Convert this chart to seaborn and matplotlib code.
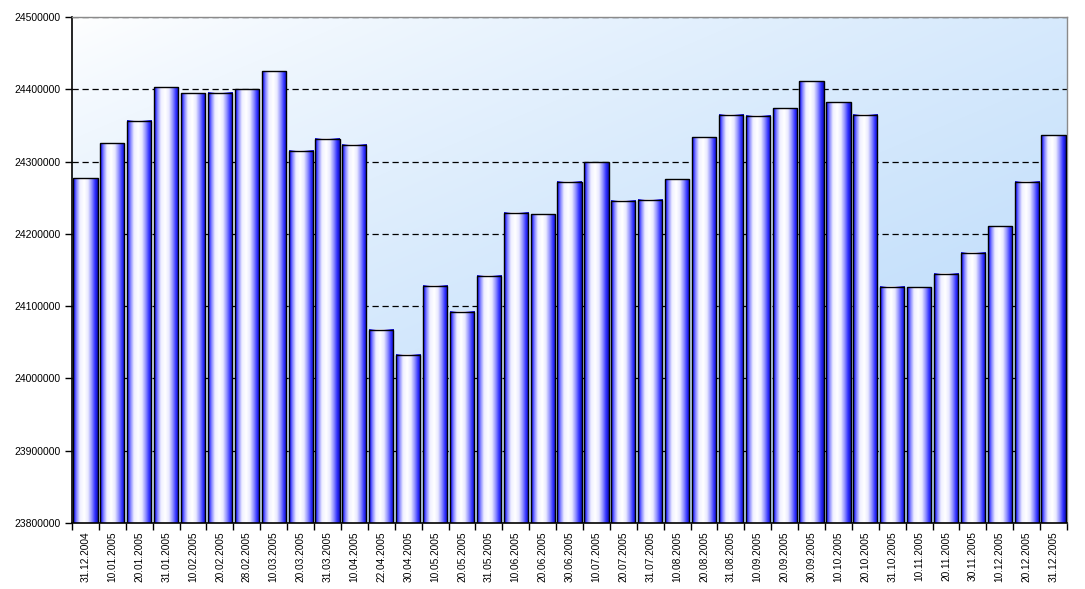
import numpy as np
import pandas as pd
import matplotlib
matplotlib.use("Agg")
import matplotlib.pyplot as plt
import seaborn as sns
from matplotlib.colors import LinearSegmentedColormap

dates = ["31.12.2004", "10.01.2005", "20.01.2005", "31.01.2005", "10.02.2005", "20.02.2005",
         "28.02.2005", "10.03.2005", "20.03.2005", "31.03.2005", "10.04.2005", "22.04.2005",
         "30.04.2005", "10.05.2005", "20.05.2005", "31.05.2005", "10.06.2005", "20.06.2005",
         "30.06.2005", "10.07.2005", "20.07.2005", "31.07.2005", "10.08.2005", "20.08.2005",
         "31.08.2005", "10.09.2005", "20.09.2005", "30.09.2005", "10.10.2005", "20.10.2005",
         "31.10.2005", "10.11.2005", "20.11.2005", "30.11.2005", "10.12.2005", "20.12.2005",
         "31.12.2005"]
values = [24277300, 24325700, 24356200, 24403200, 24394900, 24395200,
          24399800, 24425300, 24314700, 24331300, 24323000, 24067100,
          24032500, 24127900, 24092000, 24141800, 24228900, 24227500,
          24271800, 24299400, 24245500, 24246900, 24275900, 24334000,
          24364500, 24363100, 24374100, 24411500, 24382400, 24364500,
          24126600, 24126000, 24144500, 24173600, 24210900, 24271800,
          24336800]
y_ticks = [23800000, 23900000, 24000000, 24100000, 24200000, 24300000, 24400000, 24500000]

df = pd.DataFrame({"date": dates, "value": values})

sns.set_theme(style="white")
plt.rcParams['font.family'] = ['Liberation Sans', 'DejaVu Sans']

fig = plt.figure(figsize=(10.85, 5.89), dpi=100)
ax = fig.add_axes([0.0664, 0.1121, 0.9170, 0.8590])

sns.barplot(data=df, x="date", y="value", ax=ax, width=0.9, color="white",
            edgecolor="black", linewidth=1.0, saturation=1, zorder=3)

# background gradient (diagonal, white top-left -> light blue bottom-right)
gx, gy = np.meshgrid(np.linspace(0, 1, 300), np.linspace(0, 1, 300))
t = np.clip((gx * 0.5 + gy * 0.6) / 1.1, 0, 1) ** 0.8
c0 = np.array([1.0, 1.0, 1.0])
c1 = np.array([0.70, 0.84, 0.98])
bg = c0[None, None, :] * (1 - t[..., None]) + c1[None, None, :] * t[..., None]
ax.imshow(bg, extent=[0, 1, 0, 1], transform=ax.transAxes, aspect="auto",
          zorder=0, origin="upper", interpolation="bilinear")

# bar gradient
bar_cmap = LinearSegmentedColormap.from_list("barg", [
    (0.0, (0.05, 0.05, 0.75)),
    (0.05, (0.15, 0.15, 1.0)),
    (0.15, (0.55, 0.55, 1.0)),
    (0.28, (0.94, 0.94, 1.0)),
    (0.45, (1.0, 1.0, 1.0)),
    (0.60, (0.92, 0.92, 1.0)),
    (0.76, (0.55, 0.55, 1.0)),
    (0.89, (0.18, 0.18, 1.0)),
    (1.0, (0.05, 0.05, 0.70)),
])
grad = np.linspace(0, 1, 256)[None, :]
for p in ax.patches:
    x0 = p.get_x()
    w = p.get_width()
    h = p.get_height()
    ax.imshow(grad, cmap=bar_cmap, extent=[x0, x0 + w, y_ticks[0], h],
              aspect="auto", zorder=2.5, interpolation="bilinear")
    p.set_facecolor("none")
ax.set_xlim(-0.5, len(dates) - 0.5)
ax.set_ylim(y_ticks[0], y_ticks[-1])

ax.set_yticks(y_ticks)
ax.set_yticklabels([str(v) for v in y_ticks], fontsize=7.5, color="black")
ax.yaxis.grid(True, linestyle=(0, (5, 3)), color="black", linewidth=0.9, zorder=1)
ax.set_axisbelow(True)

ax.set_xticks(range(len(dates)))
ax.set_xticklabels(dates, rotation=90, fontsize=7.3, color="black")
# ticks between categories
ax.set_xticks(np.arange(-0.5, len(dates), 1.0), minor=True)
ax.tick_params(axis="x", which="major", length=0, pad=6)
ax.tick_params(axis="x", which="minor", length=5, width=1, color="black", bottom=True, direction="out")
ax.tick_params(axis="y", length=5, width=1, color="black", left=True, direction="out", pad=3)

ax.set_xlabel("")
ax.set_ylabel("")

for s in ["left", "bottom"]:
    ax.spines[s].set_color("black")
    ax.spines[s].set_linewidth(1.2)
for s in ["top", "right"]:
    ax.spines[s].set_color("#8a8a8a")
    ax.spines[s].set_linewidth(1.0)

fig.savefig("out.png", dpi=100, facecolor="white")
